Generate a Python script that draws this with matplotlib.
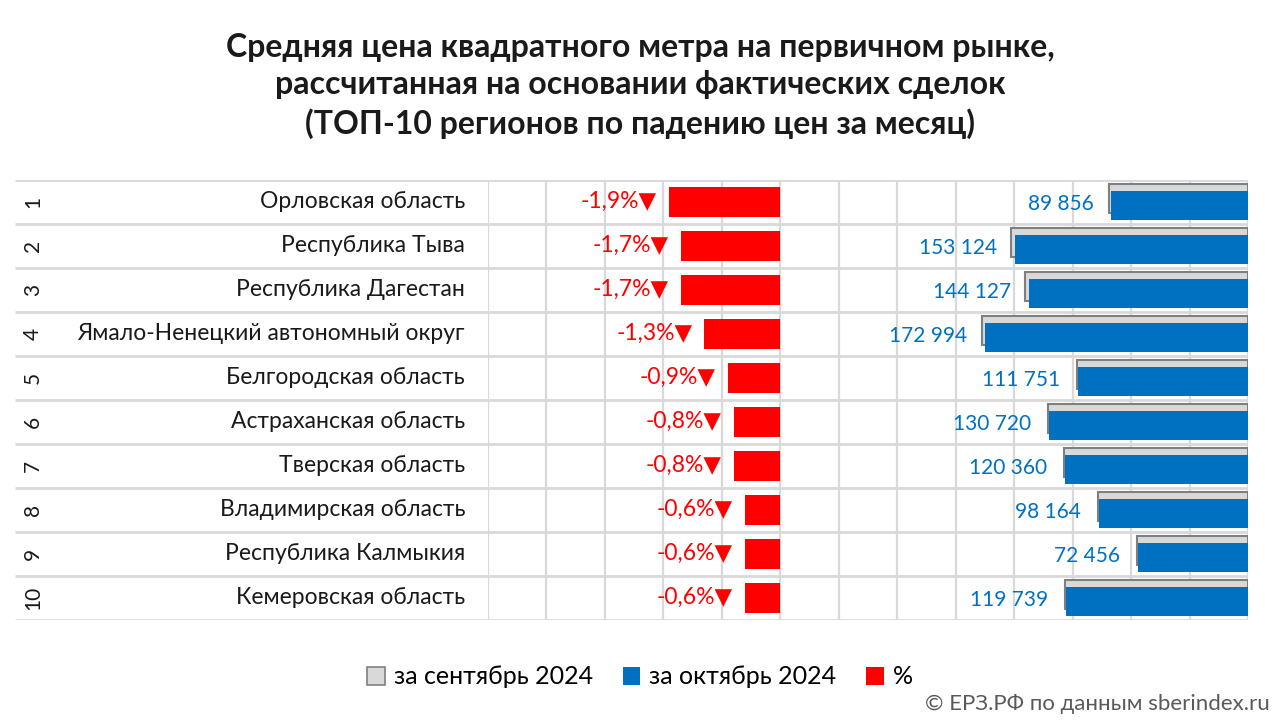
import matplotlib
matplotlib.use("Agg")
import matplotlib.pyplot as plt
from matplotlib.patches import Patch

plt.rcParams['font.family'] = ['Lato', 'Open Sans', 'DejaVu Sans']

# data
regions = ["Орловская область", "Республика Тыва", "Республика Дагестан",
           "Ямало-Ненецкий автономный округ", "Белгородская область",
           "Астраханская область", "Тверская область", "Владимирская область",
           "Республика Калмыкия", "Кемеровская область"]
ranks = [1, 2, 3, 4, 5, 6, 7, 8, 9, 10]
pct = [-1.9, -1.7, -1.7, -1.3, -0.9, -0.8, -0.8, -0.6, -0.6, -0.6]
price_oct = [89856, 153124, 144127, 172994, 111751, 130720, 120360, 98164, 72456, 119739]
price_sep = [91600, 155770, 146620, 175270, 112770, 131770, 121330, 98760, 72890, 120460]

W, H = 1280, 720
fig = plt.figure(figsize=(12.8, 7.2), dpi=100)
fig.patch.set_facecolor("white")

def rect(x0, y0, x1, y1):
    return [x0 / W, 1 - y1 / H, (x1 - x0) / W, (y1 - y0) / H]

grid_c = "#d9d9d9"
red = "#ff0000"
blue = "#0070c0"
n = len(regions)

# table (row lines, names, ranks)
ax_tab = fig.add_axes(rect(15, 180, 1248, 620))
ax_tab.set_xlim(15, 1248)
ax_tab.set_ylim(n, 0)
ax_tab.axis("off")
ax_tab.hlines(range(n + 1), 15, 1248, color=grid_c, lw=2, zorder=0)
for i in range(n):
    ax_tab.text(465, i + 0.5, regions[i], ha="right", va="center", fontsize=16.5, color="#1a1a1a")
    ax_tab.text(33, i + 0.5, str(ranks[i]), ha="center", va="center", rotation=90,
                fontsize=15, color="#1a1a1a")

# percent bars
ax_p = fig.add_axes(rect(488, 180, 1248, 620))
ax_p.set_xlim(-0.05, 0.08)
ax_p.set_ylim(n, 0)
ax_p.set_xticks([k / 100 for k in range(-5, 9)])
ax_p.tick_params(length=0, labelbottom=False, labelleft=False)
ax_p.set_yticks([])
ax_p.grid(axis="x", color=grid_c, lw=1.6)
ax_p.set_axisbelow(True)
for s in ax_p.spines.values():
    s.set_visible(False)
ax_p.set_facecolor("none")
ys = [i + 0.5 for i in range(n)]
ax_p.barh(ys, [v / 100 for v in pct], height=0.7, color=red, zorder=3)
for i in range(n):
    ax_p.annotate(f"{pct[i]:.1f}%".replace(".", ",") + "\u25bc", xy=(pct[i] / 100, ys[i]),
                  xytext=(-12, 1), textcoords="offset pixels", ha="right", va="center",
                  fontsize=16.5, color=red, zorder=4)

# price bars (reversed axis)
ax_v = fig.add_axes(rect(488, 180, 1248, 620))
ax_v.set_xlim(500000, 0)
ax_v.set_ylim(n, 0)
ax_v.axis("off")
ax_v.barh([y - 0.08 for y in ys], price_sep, height=0.66, color="#d9d9d9",
          edgecolor="#7f7f7f", lw=1.5, zorder=3)
ax_v.barh([y + 0.08 for y in ys], price_oct, height=0.66, color=blue, zorder=4)
for i in range(n):
    ax_v.annotate(f"{price_oct[i]:,}".replace(",", " "), xy=(price_oct[i], ys[i] + 0.04),
                  xytext=(-18, 0), textcoords="offset pixels", ha="right", va="center",
                  fontsize=15, color=blue, zorder=5)

# title
fig.text(0.5, 1 - 86 / H,
         "Средняя цена квадратного метра на первичном рынке,\n"
         "рассчитанная на основании фактических сделок\n"
         "(ТОП-10 регионов по падению цен за месяц)",
         ha="center", va="center", fontsize=23, fontweight="bold", linespacing=1.36,
         color="#1a1a1a")

# legend
handles = [Patch(facecolor="#d9d9d9", edgecolor="#7f7f7f", lw=1.2),
           Patch(facecolor=blue), Patch(facecolor=red)]
fig.legend(handles, ["за сентябрь 2024", "за октябрь 2024", "%"], loc="center",
           bbox_to_anchor=(0.5, 1 - 677 / H), ncol=3, frameon=False, fontsize=18,
           handlelength=0.7, handleheight=0.7, handletextpad=0.35, columnspacing=1.2)

fig.text(1270 / W, 1 - 704 / H, "© ЕРЗ.РФ по данным sberindex.ru", ha="right", va="center",
         fontsize=16, color="#595959")

fig.savefig("out.png", dpi=100)
